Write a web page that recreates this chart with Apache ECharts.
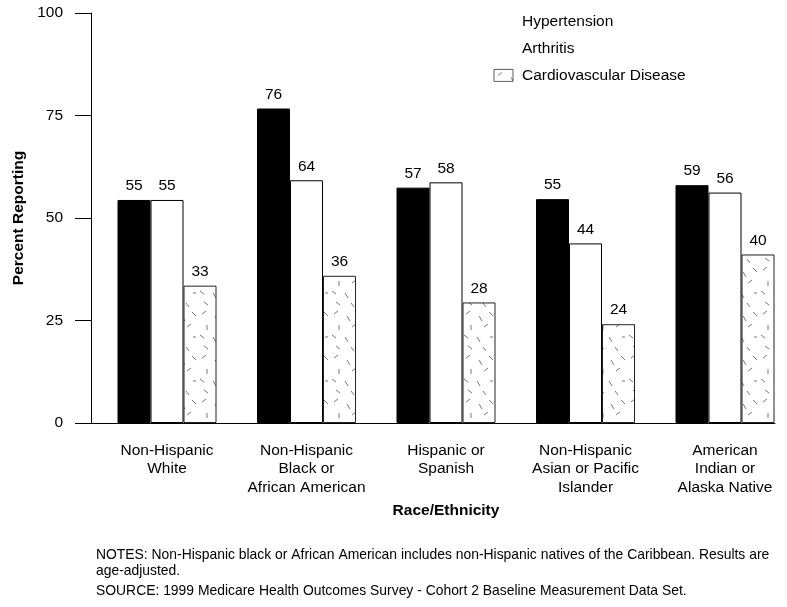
<!DOCTYPE html>
<html>
<head>
<meta charset="utf-8">
<script src="https://cdn.jsdelivr.net/npm/echarts@6/dist/echarts.min.js"></script>
<style>
html,body{margin:0;padding:0;background:#fff;}
#chart{width:787px;height:607px;}
</style>
</head>
<body>
<div id="chart"></div>
<script>
// ---- data ----
var categories = ['Non-Hispanic\nWhite', 'Non-Hispanic\nBlack or\nAfrican American', 'Hispanic or\nSpanish', 'Non-Hispanic\nAsian or Pacific\nIslander', 'American\nIndian or\nAlaska Native'];
var seriesNames = ['Hypertension', 'Arthritis', 'Cardiovascular Disease'];
// bar heights as drawn in the picture
var hypertension = [54.4, 76.7, 57.4, 54.6, 58.0];
var arthritis = [54.4, 59.2, 58.7, 43.8, 56.2];
var cardiovascular = [33.5, 35.9, 29.4, 24.1, 41.1];
// printed value labels
var hypertensionLabels = [55, 76, 57, 55, 59];
var arthritisLabels = [55, 64, 58, 44, 56];
var cardiovascularLabels = [33, 36, 28, 24, 40];
var yTicks = [0, 25, 50, 75, 100];
var notesText = 'NOTES: Non-Hispanic black or African American includes non-Hispanic natives of the Caribbean. Results are\nage-adjusted.';
var sourceText = 'SOURCE: 1999 Medicare Health Outcomes Survey - Cohort 2 Baseline Measurement Data Set.';

// ---- pattern tile for cardiovascular disease ----
function makePattern() {
  var c = document.createElement('canvas');
  c.width = 33; c.height = 44;
  var g = c.getContext('2d');
  g.fillStyle = '#fff';
  g.fillRect(0, 0, 33, 44);
  g.strokeStyle = '#555';
  g.lineWidth = 0.8;
  var dashes = [
    [4, 6, 8, 3], [17, 8, 20, 13], [27, 4, 31, 8],
    [9, 17, 9, 22], [22, 19, 26, 16], [2, 27, 6, 30],
    [15, 29, 18, 34], [28, 29, 31, 29], [6, 38, 10, 41], [21, 39, 24, 43]
  ];
  dashes.forEach(function (d) {
    g.beginPath(); g.moveTo(d[0], d[1]); g.lineTo(d[2], d[3]); g.stroke();
  });
  return c;
}
var pattern = { image: makePattern(), repeat: 'repeat' };

var FONT = '"Liberation Sans", Arial, Helvetica, sans-serif';
var chart = echarts.init(document.getElementById('chart'), null, { renderer: 'canvas' });

function labelFmt(arr) {
  return function (p) { return String(arr[p.dataIndex]); };
}
var labelStyle = {
  show: true, position: 'top', distance: 6,
  fontFamily: FONT, fontSize: 15.5, color: '#000'
};

var option = {
  animation: false,
  backgroundColor: '#fff',
  textStyle: { fontFamily: FONT },
  legend: {
    orient: 'vertical',
    left: 493, top: 13,
    padding: 0,
    icon: 'rect',
    itemWidth: 19, itemHeight: 12,
    itemGap: 8.7,
    textStyle: { fontFamily: FONT, fontSize: 15.5, color: '#000', lineHeight: 18, padding: [0, 0, 0, 4] },
    data: [
      { name: 'Hypertension', itemStyle: { opacity: 0 } },
      { name: 'Arthritis', itemStyle: { opacity: 0 } },
      { name: 'Cardiovascular Disease', itemStyle: { borderWidth: 0.8, borderColor: '#333' } }
    ],
    selectedMode: false
  },
  grid: [
    { left: 91, right: 12, top: 13, bottom: 184, outerBoundsMode: 'none' },
    { left: 97.25, width: 697.5, top: 13, bottom: 184, outerBoundsMode: 'none' }
  ],
  xAxis: [
    {
      gridIndex: 0, type: 'value', min: 0, max: 1,
      axisLine: { show: true, lineStyle: { color: '#000', width: 1 } },
      axisTick: { show: false }, axisLabel: { show: false }, splitLine: { show: false }
    },
    {
      gridIndex: 1, type: 'category', data: categories,
      axisLine: { show: false }, axisTick: { show: false },
      axisLabel: { fontFamily: FONT, fontSize: 15.5, color: '#000', lineHeight: 18.5, margin: 18, interval: 0 },
      name: 'Race/Ethnicity', nameLocation: 'middle', nameGap: 80,
      nameTextStyle: { fontFamily: FONT, fontSize: 15.5, fontWeight: 'bold', color: '#000' }
    }
  ],
  yAxis: [
    {
      gridIndex: 0, type: 'value', min: yTicks[0], max: yTicks[yTicks.length - 1], interval: 25,
      axisLine: { show: true, lineStyle: { color: '#000', width: 1 } },
      axisTick: { show: true, length: 16, lineStyle: { color: '#000', width: 1 } },
      axisLabel: { fontFamily: FONT, fontSize: 15.5, color: '#000', margin: 28 },
      splitLine: { show: false },
      name: 'Percent Reporting', nameLocation: 'middle', nameRotate: 90, nameGap: 57,
      nameTextStyle: { fontFamily: FONT, fontSize: 15.5, fontWeight: 'bold', color: '#000' }
    },
    { gridIndex: 1, type: 'value', min: 0, max: 100, show: false }
  ],
  series: [
    {
      name: seriesNames[0], type: 'bar', xAxisIndex: 1, yAxisIndex: 1,
      data: hypertension, barWidth: 33, barGap: '0%',
      itemStyle: { color: '#000', borderColor: '#000', borderWidth: 1 },
      label: Object.assign({}, labelStyle, { formatter: labelFmt(hypertensionLabels) })
    },
    {
      name: seriesNames[1], type: 'bar', xAxisIndex: 1, yAxisIndex: 1,
      data: arthritis, barWidth: 33, barGap: '0%',
      itemStyle: { color: '#fff', borderColor: '#000', borderWidth: 1 },
      label: Object.assign({}, labelStyle, { formatter: labelFmt(arthritisLabels) })
    },
    {
      name: seriesNames[2], type: 'bar', xAxisIndex: 1, yAxisIndex: 1,
      data: cardiovascular, barWidth: 33, barGap: '0%',
      itemStyle: { color: pattern, borderColor: '#222', borderWidth: 1 },
      label: Object.assign({}, labelStyle, { formatter: labelFmt(cardiovascularLabels) })
    }
  ],
  graphic: [
    {
      type: 'text', left: 96, top: 547,
      style: { text: notesText, fontFamily: FONT, fontSize: 13.9, lineHeight: 16, fill: '#000' }
    },
    {
      type: 'text', left: 96, top: 583,
      style: { text: sourceText, fontFamily: FONT, fontSize: 13.9, lineHeight: 16, fill: '#000' }
    }
  ]
};
chart.setOption(option);
</script>
</body>
</html>
